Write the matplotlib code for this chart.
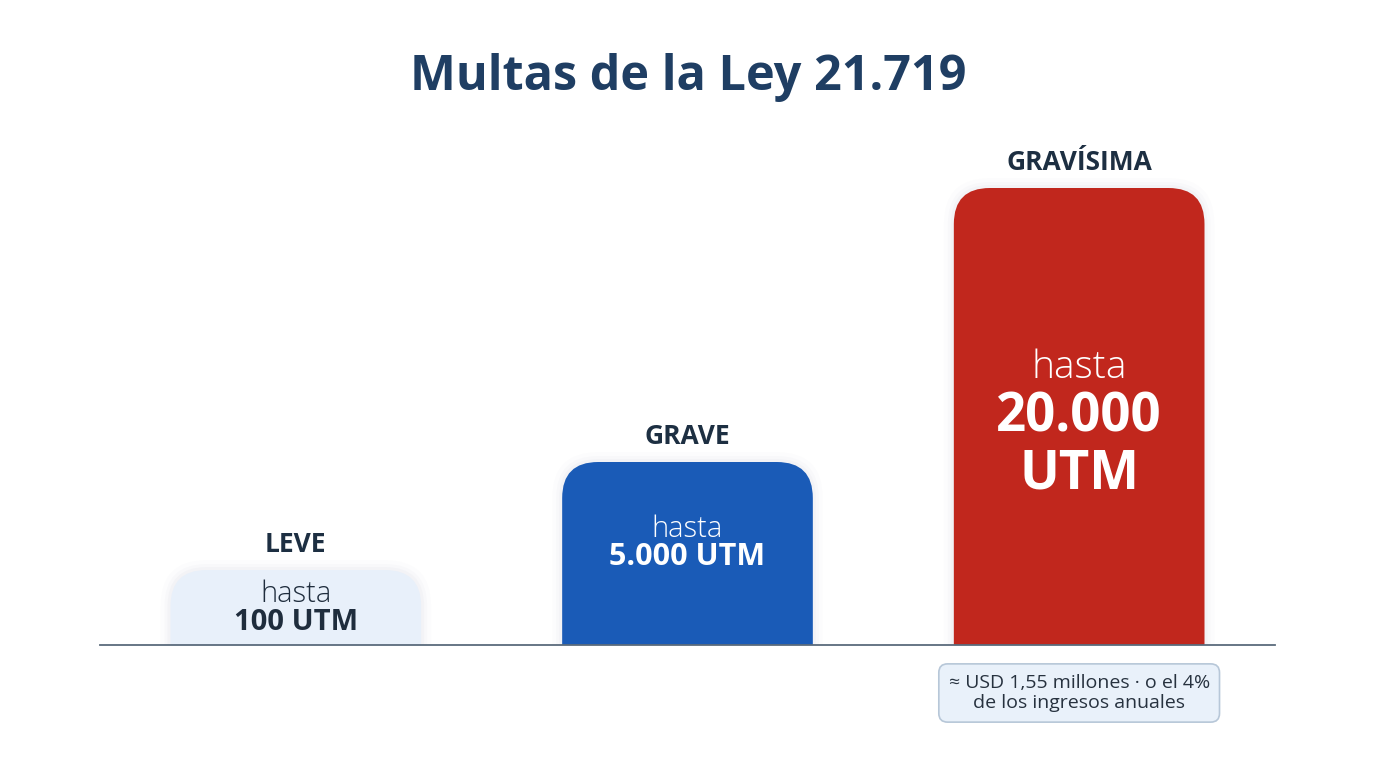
import numpy as np
import matplotlib
matplotlib.use("Agg")
import matplotlib.pyplot as plt
from matplotlib.patches import FancyBboxPatch

# Data (bars are illustrative, not to scale)
categories = ["LEVE", "GRAVE", "GRAVÍSIMA"]
fine_values = ["100 UTM", "5.000 UTM", "20.000\nUTM"]
bar_heights = [75, 183, 457]          # visual bar heights (chart units)
note_text = "≈ USD 1,55 millones · o el 4%\nde los ingresos anuales"
title = "Multas de la Ley 21.719"

FONT = ["Open Sans", "DejaVu Sans"]
plt.rcParams["font.family"] = FONT

bar_colors = ["#e8f0fa", "#1a5bb7", "#c1271d"]
text_colors = ["#1f2d3d", "#ffffff", "#ffffff"]
label_color = "#1d2f42"
title_color = "#1f3e63"

W, H = 1376, 768
fig = plt.figure(figsize=(W / 100, H / 100), dpi=100)
fig.patch.set_facecolor("white")

# axes: baseline at y=645px, line from x=100 to 1275
ax = fig.add_axes([100 / W, (H - 645) / H, 1175 / W, 545 / H])
ax.set_xlim(-0.5, 2.5)
ax.set_ylim(0, 545)
ax.axis("off")

x = np.arange(len(categories))
bars = ax.bar(x, bar_heights, width=0.64, alpha=0)

# x-units -> px ratio for rounded corners
px_per_x = 1175 / 3
aspect = px_per_x / (545 / 545)
radius = 36 / px_per_x

for i, rect in enumerate(bars):
    x0, w, h = rect.get_x(), rect.get_width(), rect.get_height()
    # soft shadow
    for k, a in [(10, 0.02), (6, 0.03), (3, 0.04)]:
        sh = FancyBboxPatch((x0 - k / px_per_x, -50), w + 2 * k / px_per_x, h + 50 + k,
                            boxstyle=f"round,pad=0,rounding_size={radius + k / px_per_x}",
                            mutation_aspect=aspect, fc="#8090a8", ec="none",
                            alpha=a, zorder=1)
        ax.add_patch(sh)
    p = FancyBboxPatch((x0, -50), w, h + 50,
                       boxstyle=f"round,pad=0,rounding_size={radius}",
                       mutation_aspect=aspect, fc=bar_colors[i], ec="none", zorder=2)
    ax.add_patch(p)
    ax.text(rect.get_x() + w / 2, h + 25, categories[i], ha="center", va="center",
            fontsize=19, fontweight="bold", color=label_color, zorder=3)

# inside texts
ax.text(x[0], 51, "hasta", ha="center", va="center", fontsize=21,
        fontweight="light", color=text_colors[0], zorder=3)
ax.text(x[0], 22, fine_values[0], ha="center", va="center", fontsize=21,
        fontweight="bold", color=text_colors[0], zorder=3)
ax.text(x[1], 116, "hasta", ha="center", va="center", fontsize=21,
        fontweight="light", color=text_colors[1], zorder=3)
ax.text(x[1], 88, fine_values[1], ha="center", va="center", fontsize=22,
        fontweight="bold", color=text_colors[1], zorder=3)
ax.text(x[2], 277, "hasta", ha="center", va="center", fontsize=28,
        fontweight="light", color=text_colors[2], zorder=3)
ax.text(x[2], 199, fine_values[2], ha="center", va="center", fontsize=38,
        fontweight="bold", color=text_colors[2], zorder=3, linespacing=1.05)

# baseline
ax.axhline(0, color="#5b6b7c", lw=1.3, zorder=4, clip_on=False)

# note box under the red bar
ax.text(x[2], -48, note_text, ha="center", va="center", fontsize=14,
        color="#27323f", linespacing=1.2, zorder=3, clip_on=False,
        bbox=dict(boxstyle="round,pad=0.5,rounding_size=0.45",
                  fc="#e9f1fa", ec="#b7c7d8", lw=1.2))

fig.text(688 / W, 1 - 78 / H, title, ha="center", va="center", fontsize=35,
         fontweight="bold", color=title_color)

fig.savefig("out.png", dpi=100, facecolor="white")
